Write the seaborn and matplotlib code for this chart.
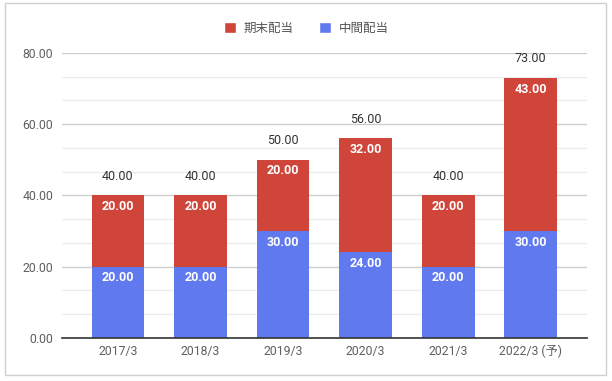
import matplotlib
matplotlib.use("Agg")
import matplotlib.pyplot as plt
import seaborn as sns
import pandas as pd
import numpy as np
from matplotlib.patches import Rectangle, Patch
from matplotlib.ticker import MultipleLocator

categories = ["2017/3", "2018/3", "2019/3", "2020/3", "2021/3", "2022/3 (予)"]
interim = [20, 20, 30, 24, 20, 30]      # 中間配当
year_end = [20, 20, 20, 32, 20, 43]     # 期末配当
totals = [a + b for a, b in zip(interim, year_end)]

RED = "#cf4539"
BLUE = "#6079ef"

sns.set_theme(style="white")
plt.rcParams["font.family"] = ["Roboto", "Noto Sans CJK JP", "DejaVu Sans"]

fig = plt.figure(figsize=(6.12, 3.81), dpi=100)
ax = fig.add_axes([0.101, 0.113, 0.858, 0.748])

df = pd.DataFrame({"cat": categories, "interim": interim, "total": totals})
sns.barplot(data=df, x="cat", y="total", color=RED, width=0.64, ax=ax,
            saturation=1, zorder=3, linewidth=0, edgecolor="none")
sns.barplot(data=df, x="cat", y="interim", color=BLUE, width=0.64, ax=ax,
            saturation=1, zorder=3, linewidth=0, edgecolor="none")

ax.set_xlim(-0.68, 5.68)
ax.set_ylim(0, 80)
ax.yaxis.set_major_locator(MultipleLocator(20))
ax.yaxis.set_minor_locator(MultipleLocator(20 / 3))
ax.grid(axis="y", which="major", color="#cccccc", linewidth=0.9, zorder=0)
ax.grid(axis="y", which="minor", color="#ebebeb", linewidth=0.9, zorder=0)
ax.set_axisbelow(True)
for s in ["top", "right", "left"]:
    ax.spines[s].set_visible(False)
ax.spines["bottom"].set_color("#333333")
ax.spines["bottom"].set_linewidth(1.2)
ax.spines["bottom"].set_zorder(4)
ax.set_xlabel("")
ax.set_ylabel("")
ax.tick_params(axis="both", which="both", length=0, labelsize=8.8, labelcolor="#5f5f5f")
ax.tick_params(axis="y", pad=6)
ax.tick_params(axis="x", pad=5)
ax.set_yticks([0, 20, 40, 60, 80])
ax.set_yticklabels([f"{v:.2f}" for v in [0, 20, 40, 60, 80]])

for i, (a, b, t) in enumerate(zip(interim, year_end, totals)):
    ax.text(i, a - 1.3, f"{a:.2f}", ha="center", va="top", color="white",
            fontsize=9, fontweight="bold", zorder=5)
    ax.text(i, t - 1.3, f"{b:.2f}", ha="center", va="top", color="white",
            fontsize=9, fontweight="bold", zorder=5)
    ax.text(i, t + 3.6, f"{t:.2f}", ha="center", va="bottom", color="#333333",
            fontsize=9, zorder=5)

handles = [Patch(facecolor=RED, label="期末配当"), Patch(facecolor=BLUE, label="中間配当")]
fig.legend(handles=handles, loc="center", bbox_to_anchor=(0.5, 0.926), ncol=2,
           frameon=False, fontsize=9, handlelength=1.0, handleheight=1.0,
           handletextpad=0.6, columnspacing=2.0, labelcolor="#555555")

fig.patches.append(Rectangle((5 / 612, 6 / 381), 601 / 612, 372 / 381,
                             transform=fig.transFigure, fill=False,
                             edgecolor="#d0d0d0", linewidth=1.0))

fig.savefig("out.png", dpi=100)
